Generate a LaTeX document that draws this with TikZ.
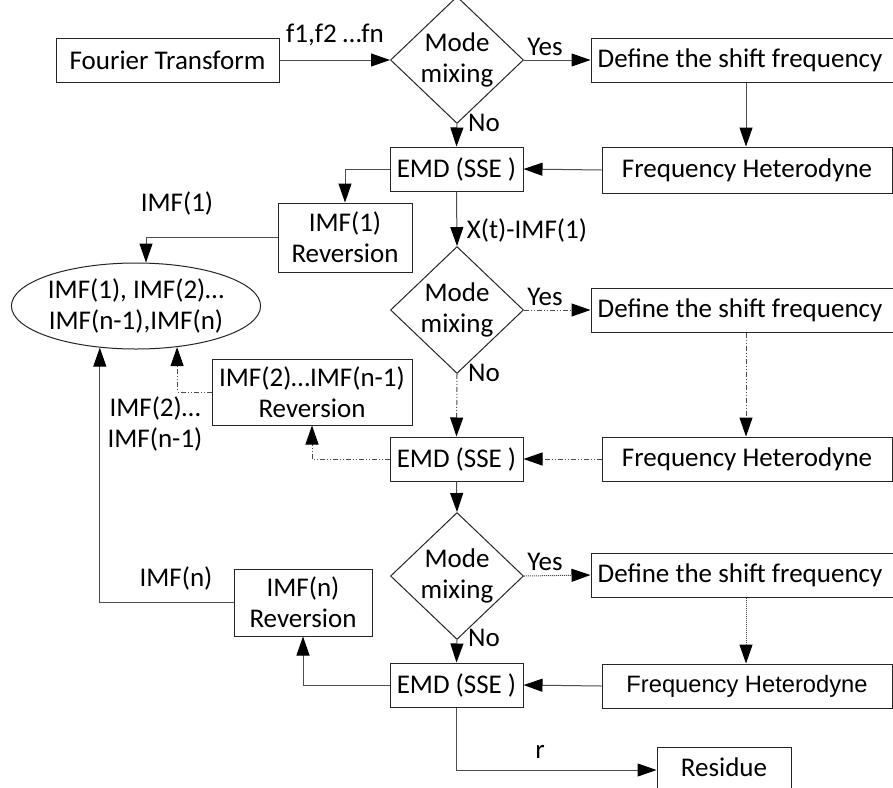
\documentclass[tikz,border=0pt]{standalone}
\usepackage{fontspec}
\setmainfont{Carlito}
\newfontfamily\arialfont{Liberation Sans}
\usetikzlibrary{shapes.geometric,arrows.meta}
\begin{document}
\begin{tikzpicture}[x=1pt,y=-1pt,
  every node/.style={font=\fontsize{27}{31}\selectfont},
  box/.style={draw=black!85,line width=1pt,rectangle,inner sep=0pt,align=center},
  dia/.style={draw=black!85,line width=1pt,diamond,minimum width=133pt,minimum height=100pt,inner sep=0pt,align=center},
  conn/.style={draw=black!70,line width=1pt,-{Triangle[length=19pt,width=13pt,color=black]}},
  dd/.style={dash pattern=on 5pt off 2pt on 1pt off 2pt on 1pt off 2pt},
  dt/.style={dash pattern=on 1pt off 1pt},
  lbl/.style={inner sep=0pt}]
\useasboundingbox (0,0) rectangle (893,787);
\fill[white] (0,0) rectangle (893,787);
% nodes
\node[box,minimum width=223pt,minimum height=44pt] (ft) at (167.5,60) {Fourier Transform};
\node[dia] (d1) at (457,60) {Mode\\mixing};
\node[box,minimum width=310pt,minimum height=44pt] (def1) at (746,60) {\hspace*{-12pt}Define the shift frequency};
\node[box,minimum width=290pt,minimum height=46pt] (fh1) at (747,170) {Frequency Heterodyne};
\node[box,minimum width=133pt,minimum height=44pt] (emd1) at (456.5,169) {EMD (SSE )};
\node[box,minimum width=134pt,minimum height=69pt] (rev1) at (345,237.5) {IMF(1)\\Reversion};
\node[draw=black!85,line width=1pt,ellipse,minimum width=248pt,minimum height=86pt,inner sep=0pt,align=center] (ell) at (136,306) {IMF(1), IMF(2)…\\IMF(n-1),IMF(n)};
\node[dia] (d2) at (457,310) {Mode\\mixing};
\node[box,minimum width=310pt,minimum height=44pt] (def2) at (746,310) {\hspace*{-12pt}Define the shift frequency};
\node[box,minimum width=133pt,minimum height=44pt] (emd2) at (456.5,459) {EMD (SSE )};
\node[box,minimum width=290pt,minimum height=44pt] (fh2) at (747,459) {Frequency Heterodyne};
\node[box,minimum width=200pt,minimum height=66pt] (rev2) at (312,392) {IMF(2)…IMF(n-1)\\Reversion};
\node[dia] (d3) at (457,576) {Mode\\mixing};
\node[box,minimum width=310pt,minimum height=44pt] (def3) at (746,575) {\hspace*{-12pt}Define the shift frequency};
\node[box,minimum width=290pt,minimum height=44pt,font=\arialfont\fontsize{23.7}{28}\selectfont] (fh3) at (747,686) {Frequency Heterodyne};
\node[box,minimum width=133pt,minimum height=44pt] (emd3) at (456.5,685) {EMD (SSE )};
\node[box,minimum width=138pt,minimum height=67pt] (rev3) at (303,602.5) {IMF(n)\\Reversion};
\node[box,minimum width=134pt,minimum height=46pt] (res) at (724,770) {\raisebox{5pt}{Residue}};
% labels
\node[lbl] (lf) at (335,35) {f1,f2 …fn};
\node[lbl] (ly1) at (545,47) {Yes};
\node[lbl] (ln1) at (484,123) {No};
\node[lbl] (li1) at (177,203) {IMF(1)};
\node[lbl] (lx) at (527,230) {X(t)-IMF(1)};
\node[lbl] (ly2) at (545,297) {Yes};
\node[lbl] (ln2) at (484,373) {No};
\node[lbl,align=center] (li2) at (155,424) {IMF(2)…\\IMF(n-1)};
\node[lbl] (ly3) at (545,562) {Yes};
\node[lbl] (ln3) at (484,638) {No};
\node[lbl] (li3) at (176,578) {IMF(n)};
\node[lbl] (lr) at (540,752) {r};
% connectors
\draw[conn] (ft.east) -- (d1.west);
\draw[conn] (d1.east) -- (def1.west);
\draw[conn] (d1.south) -- (emd1.north);
\draw[conn] (def1.south) -- (def1.south |- fh1.north);
\draw[conn] (fh1.west) -- (emd1.east);
\draw[conn] (emd1.west) -| (rev1.north);
\draw[conn] (rev1.west) -| ([xshift=10pt]ell.north);
\draw[conn] (emd1.south) -- (d2.north);
\draw[conn,dd] (d2.east) -- (def2.west);
\draw[conn,dd] (d2.south) -- (emd2.north);
\draw[conn,dd] (def2.south) -- (def2.south |- fh2.north);
\draw[conn,dd] (fh2.west) -- (emd2.east);
\draw[conn,dd] (emd2.west) -| (rev2.south);
\draw[conn,dd] (rev2.west) -| (ell.-45);
\draw[conn] (emd2.south) -- (d3.north);
\draw[conn,dt] (d3.east) -- (def3.west);
\draw[conn] (d3.south) -- (emd3.north);
\draw[conn,dt] (def3.south) -- (def3.south |- fh3.north);
\draw[conn] (fh3.west) -- (emd3.east);
\draw[conn] (emd3.west) -| (rev3.south);
\draw[conn] (rev3.west) -| (ell.-131);
\draw[conn] (emd3.south) |- (res.west);
\end{tikzpicture}
\end{document}
